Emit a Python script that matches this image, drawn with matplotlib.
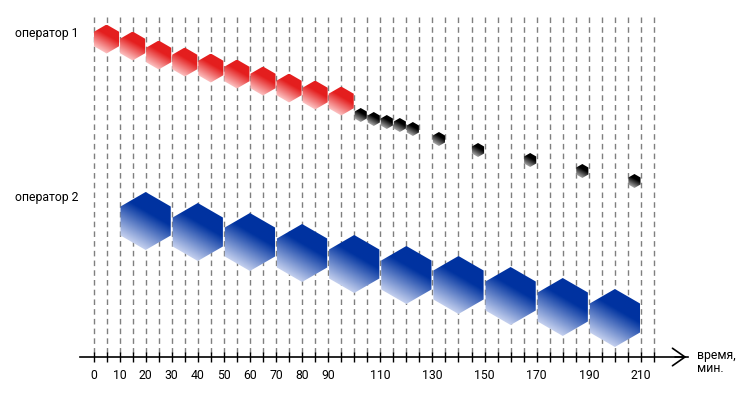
import matplotlib
matplotlib.use('Agg')
import matplotlib.pyplot as plt
import numpy as np
from matplotlib.patches import Polygon
from matplotlib.ticker import FixedLocator, FixedFormatter

plt.rcParams['font.family'] = ['Roboto', 'DejaVu Sans']

# данные: время (мин.) и уровень (сверху вниз)
op1_red_x = [5, 15, 25, 35, 45, 55, 65, 75, 85, 95]
op1_red_y = [39, 46, 55, 62, 68, 74, 81, 88, 95, 101]
op1_black_x = [102.5, 107.5, 112.5, 117.5, 122.5, 132.5, 147.5, 167.5, 187.5, 207.5]
op1_black_y = [115, 119, 122, 125, 129, 139, 150, 160, 171, 181]
op2_x = [20, 40, 60, 80, 100, 120, 140, 160, 180, 200]
op2_y = [221, 232, 242, 253, 264, 275, 285, 296, 307, 318]

grid_x = np.arange(0, 216, 5)
tick_labels = {0: '0', 10: '10', 20: '20', 30: '30', 40: '40', 50: '50',
               60: '60', 70: '70', 80: '80', 90: '90', 110: '110', 130: '130',
               150: '150', 170: '170', 190: '190', 210: '210'}

fig = plt.figure(figsize=(7.5, 3.94), dpi=100)
ax = fig.add_axes([0, 0, 1, 1])
px = 2.607  # пикселей на минуту
ax.set_xlim(-93.5 / px, (750 - 93.5) / px)
ax.set_ylim(394, 0)
ax.set_autoscale_on(False)
for s in ['top', 'left', 'right']:
    ax.spines[s].set_visible(False)
ax.yaxis.set_visible(False)

axis_y = 357
ax.vlines(grid_x, 17, axis_y, colors='#7f7f7f', linestyles=(0, (4, 3)), lw=1, zorder=1)

ax.spines['bottom'].set_position(('data', axis_y))
ax.spines['bottom'].set_bounds(-5, 228)
ax.spines['bottom'].set_linewidth(1.2)
ax.xaxis.set_major_locator(FixedLocator(grid_x))
ax.xaxis.set_major_formatter(FixedFormatter([tick_labels.get(int(v), '') for v in grid_x]))
ax.tick_params(axis='x', direction='inout', length=7, width=1, pad=5, labelsize=8.8, colors='black')
ax.annotate('', xy=(228.5, axis_y), xytext=(222, axis_y),
            arrowprops=dict(arrowstyle='->,head_length=0.5,head_width=0.35', lw=1.2,
                            color='black', mutation_scale=18))
lx = (15 - 93.5) / px
ax.text(231.5, 355, 'время,', fontsize=8.8, va='center', ha='left')
ax.text(231.5, 369, 'мин.', fontsize=8.8, va='center', ha='left')
ax.text(lx, 33, 'оператор 1', fontsize=8.8, va='center', ha='left')
ax.text(lx, 197, 'оператор 2', fontsize=8.8, va='center', ha='left')


def to_rgb(h):
    h = h.lstrip('#')
    return np.array([int(h[i:i + 2], 16) for i in (0, 2, 4)]) / 255.0


def hexagon(x, y, r, dark, light):
    cx, cy = ax.transData.transform((x, y))
    a = np.deg2rad(90 + 60 * np.arange(6))
    pts = np.column_stack([cx + r * np.cos(a), cy + r * np.sin(a)])
    dpts = ax.transData.inverted().transform(pts)
    poly = Polygon(dpts, closed=True, facecolor='none', edgecolor='none')
    ax.add_patch(poly)
    n = 64
    u, v = np.meshgrid(np.linspace(-1, 1, n), np.linspace(-1, 1, n))
    t = (0.5 * u + 0.866 * v)
    t = np.clip((t + 0.9) / 1.2, 0, 1)[..., None]
    img = to_rgb(light) + (to_rgb(dark) - to_rgb(light)) * t
    x0, y0 = ax.transData.inverted().transform((cx - r, cy - r))
    x1, y1 = ax.transData.inverted().transform((cx + r, cy + r))
    im = ax.imshow(img, extent=(x0, x1, y0, y1), origin='lower', aspect='auto',
                   interpolation='bilinear', zorder=3)
    im.set_clip_path(poly)


for x, y in zip(op1_red_x, op1_red_y):
    hexagon(x, y, 14.5, '#e41e1e', '#fdc8c8')
for x, y in zip(op1_black_x, op1_black_y):
    hexagon(x, y, 7, '#000000', '#a8a8a8')
for x, y in zip(op2_x, op2_y):
    hexagon(x, y, 29, '#0033a0', '#c8d3f0')

fig.savefig('out.png', dpi=100)
